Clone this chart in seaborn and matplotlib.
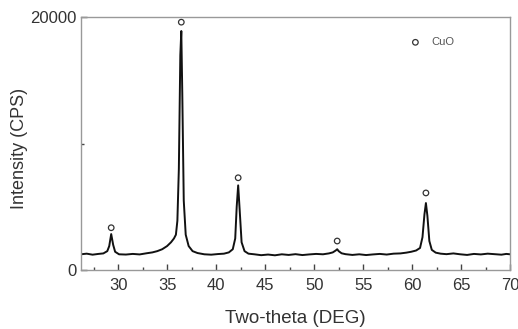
import matplotlib
matplotlib.use("Agg")
import matplotlib.pyplot as plt
import seaborn as sns
from matplotlib.ticker import MultipleLocator, FixedLocator

sns.set_style("ticks")
plt.rcParams["font.family"] = ["Liberation Sans", "DejaVu Sans"]

# XRD pattern
two_theta = [26.2, 26.8, 27.4, 28.0, 28.5, 28.9, 29.1, 29.3, 29.5, 29.7,
             30.1, 30.8, 31.5, 32.2, 32.9, 33.5, 34.0, 34.5, 35.0, 35.4,
             35.7, 35.9, 36.05, 36.2, 36.35, 36.45, 36.55, 36.7, 36.9, 37.2,
             37.6, 38.1, 38.8, 39.5, 40.2, 40.8, 41.3, 41.7, 41.95, 42.1,
             42.25, 42.4, 42.6, 42.9, 43.3, 43.9, 44.6, 45.3, 46.0, 46.7,
             47.4, 48.1, 48.8, 49.5, 50.2, 50.9, 51.5, 51.9, 52.2, 52.35,
             52.5, 52.8, 53.2, 53.9, 54.6, 55.3, 56.0, 56.7, 57.4, 58.1,
             58.8, 59.4, 59.9, 60.4, 60.8, 61.05, 61.25, 61.4, 61.55, 61.75,
             62.0, 62.4, 62.9, 63.5, 64.2, 64.9, 65.6, 66.3, 67.0, 67.7,
             68.4, 69.1, 69.6, 70.0]
intensity = [1250, 1300, 1220, 1280, 1320, 1500, 1900, 2850, 2000, 1450,
             1250, 1230, 1280, 1240, 1330, 1400, 1500, 1650, 1900, 2200,
             2500, 2800, 3900, 8000, 17000, 18900, 14000, 5500, 2800, 1900,
             1500, 1350, 1250, 1220, 1270, 1300, 1400, 1650, 2500, 5000,
             6700, 4800, 2200, 1500, 1300, 1250, 1180, 1230, 1170, 1250,
             1200, 1260, 1190, 1240, 1280, 1250, 1320, 1400, 1550, 1650,
             1500, 1330, 1260, 1200, 1250, 1190, 1240, 1280, 1230, 1300,
             1320, 1380, 1450, 1550, 1750, 2600, 4400, 5300, 4300, 2300,
             1600, 1380, 1300, 1260, 1320, 1250, 1200, 1280, 1240, 1300,
             1260, 1220, 1280, 1250]

# CuO peak marks
cuo_theta = [29.3, 36.45, 42.25, 52.35, 61.4]
cuo_mark = [3350, 19600, 7300, 2300, 6100]

fig = plt.figure(figsize=(5.18, 3.29), dpi=100)
ax = fig.add_axes([0.156, 0.179, 0.829, 0.769])

sns.lineplot(x=two_theta, y=intensity, color="#111111", linewidth=1.4,
             sort=False, ax=ax)
sns.scatterplot(x=cuo_theta, y=cuo_mark, marker="o", s=16,
                facecolor="none", edgecolor="#333333", linewidth=0.9,
                label="CuO", ax=ax)

ax.set_xlim(26.2, 70)
ax.set_ylim(0, 20000)
ax.xaxis.set_major_locator(MultipleLocator(5))
ax.xaxis.set_minor_locator(MultipleLocator(2.5))
ax.yaxis.set_major_locator(FixedLocator([0, 20000]))
ax.yaxis.set_minor_locator(FixedLocator([10000]))
ax.tick_params(axis="both", which="both", direction="in", color="#444444",
               labelcolor="#333333", labelsize=12, bottom=True, left=True,
               top=False, right=False)
ax.tick_params(axis="x", which="major", length=4, width=1, pad=6)
ax.tick_params(axis="y", which="major", length=4, width=1, pad=3)
ax.tick_params(which="minor", length=2.5, width=1)
for s in ax.spines.values():
    s.set_color("#999999")
    s.set_linewidth(1.0)

ax.set_xlabel("Two-theta (DEG)", fontsize=13.5, color="#333333", labelpad=12)
ax.set_ylabel("Intensity (CPS)", fontsize=13, color="#333333", labelpad=0)
ax.yaxis.set_label_coords(-0.123, 0.48)

ax.legend(loc="upper left", bbox_to_anchor=(0.73, 0.96), frameon=False,
          fontsize=8, handletextpad=0.4, labelcolor="#555555")

fig.savefig("out.png", dpi=100)
